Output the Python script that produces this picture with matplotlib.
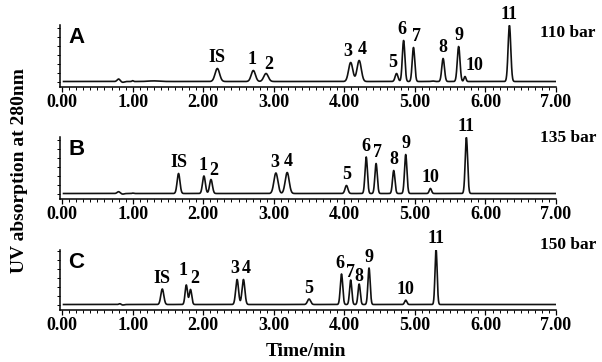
import numpy as np
import matplotlib
matplotlib.use("Agg")
import matplotlib.pyplot as plt
from matplotlib.ticker import MultipleLocator

W, H = 602, 362

# peak tables: retention time (min), height, sigma (min)
labels = ["IS", "1", "2", "3", "4", "5", "6", "7", "8", "9", "10", "11"]

rt_a = [2.20, 2.71, 2.89, 4.09, 4.21, 4.74, 4.84, 4.98, 5.40, 5.62, 5.71, 6.34]
height_a = [13, 11, 8, 19, 21, 8, 41, 34, 23, 35, 5, 56]
sigma_a = [0.032, 0.030, 0.032, 0.030, 0.030, 0.020, 0.018, 0.018, 0.019, 0.019, 0.014, 0.019]

rt_b = [1.65, 2.01, 2.11, 3.03, 3.19, 4.03, 4.31, 4.45, 4.70, 4.87, 5.22, 5.73]
height_b = [20, 17.5, 14, 20.5, 21, 8, 36.5, 30, 23, 39, 5, 56]
sigma_b = [0.020, 0.020, 0.020, 0.028, 0.028, 0.020, 0.017, 0.017, 0.017, 0.017, 0.016, 0.017]

rt_c = [1.42, 1.76, 1.82, 2.48, 2.57, 3.50, 3.96, 4.09, 4.21, 4.35, 4.87, 5.30]
height_c = [15.5, 19.5, 15, 25, 25, 5.5, 30.5, 24.5, 20.5, 36.5, 4.3, 55.5]
sigma_c = [0.021, 0.017, 0.017, 0.020, 0.020, 0.022, 0.017, 0.016, 0.016, 0.016, 0.016, 0.015]

# small unlabelled baseline disturbances (time, height, sigma)
noise_a = [(0.80, 2.5, 0.02), (0.86, -0.8, 0.02), (1.00, 0.8, 0.01), (1.30, 0.6, 0.08), (5.25, 0.5, 0.02)]
noise_b = [(0.80, 1.8, 0.02), (0.86, -0.6, 0.02), (1.00, 0.4, 0.01)]
noise_c = [(0.82, 0.8, 0.015), (0.86, -0.5, 0.02)]

pressures = ["110 bar", "135 bar", "150 bar"]
panel_names = ["A", "B", "C"]

# label nudges in points (dx, dy) for crowded peaks
nudge_a = {"1": (-1, 0), "2": (2, -1), "3": (-2, 0), "4": (2, 0), "5": (-3, 0),
           "6": (-1, 0), "7": (2, 0), "10": (7, 0)}
nudge_b = {"1": (-1, 0), "2": (2, -1), "3": (-1, 0), "4": (1, 0), "6": (0, 0), "7": (1, 0)}
nudge_c = {"1": (-2, 3), "2": (3, 0), "3": (-2, 0), "4": (2, 0), "6": (-1, 0),
           "7": (0, -2), "8": (0, -2)}

serif = "Liberation Serif"
plt.rcParams["font.family"] = [serif, "DejaVu Serif"]
plt.rcParams["font.weight"] = "bold"


def trace(t, rts, hs, sigmas, extra):
    y = np.zeros_like(t)
    for r, h, s in zip(rts, hs, sigmas):
        y += h * np.exp(-0.5 * ((t - r) / s) ** 2)
    for r, h, s in extra:
        y += h * np.exp(-0.5 * ((t - r) / s) ** 2)
    return y


def fig_box(left, top, right, bottom):
    return [left / W, 1 - bottom / H, (right - left) / W, (bottom - top) / H]


fig = plt.figure(figsize=(W / 100, H / 100), dpi=100)

boxes = [(60, 25, 556, 87), (60, 137, 556, 199), (60, 250, 556, 310)]
datasets = [
    (rt_a, height_a, sigma_a, noise_a, nudge_a),
    (rt_b, height_b, sigma_b, noise_b, nudge_b),
    (rt_c, height_c, sigma_c, noise_c, nudge_c),
]
press_y = [33, 138, 245]

t = np.linspace(0.02, 7.0, 4000)

for i, (box, (rts, hs, sg, nz, nudge)) in enumerate(zip(boxes, datasets)):
    ax = fig.add_axes(fig_box(*box))
    y = trace(t, rts, hs, sg, nz)
    ax.plot(t, y, color="#111111", lw=1.2)
    span = box[3] - box[1]
    ax.set_ylim(-5.5, span - 5.5)
    ax.set_xlim(-0.03, 7.0)
    for s in ["top", "right"]:
        ax.spines[s].set_visible(False)
    for s in ["left", "bottom"]:
        ax.spines[s].set_linewidth(1.1)
    ax.xaxis.set_minor_locator(MultipleLocator(0.1))
    ax.set_xticks(np.arange(0, 7.01, 1.0))
    ax.set_xticklabels([f"{v:.2f}" for v in np.arange(0, 7.01, 1.0)],
                       fontsize=13, fontweight="bold", family=serif)
    ax.tick_params(axis="x", which="major", length=3.5, width=0.9, pad=1.5)
    ax.tick_params(axis="x", which="minor", length=2, width=0.7)
    ax.yaxis.set_major_locator(MultipleLocator(9))
    ax.tick_params(axis="y", which="major", length=2, width=0.7, labelleft=False)

    for lab, r, h in zip(labels, rts, hs):
        dx, dy = nudge.get(lab, (0, 0))
        ax.annotate(lab, (r, h), xytext=(dx, 1.5 + dy), textcoords="offset points",
                    ha="center", va="bottom", fontsize=13, fontweight="bold",
                    family=serif, annotation_clip=False)

    fig.text(68 / W, 1 - (box[1] + 2) / H, panel_names[i], ha="left", va="top",
             fontsize=16, fontweight="bold", family="Liberation Sans")
    fig.text(540 / W, 1 - press_y[i] / H, pressures[i], ha="left", va="center",
             fontsize=12.5, fontweight="bold", family=serif)

fig.text(20 / W, 1 - 171 / H, "UV absorption at 280nm", rotation=90,
         ha="center", va="center", fontsize=14, fontweight="bold", family=serif)
fig.text(306 / W, 1 - 351 / H, "Time/min", ha="center", va="center",
         fontsize=14, fontweight="bold", family=serif)

fig.savefig("out.png", dpi=100)
